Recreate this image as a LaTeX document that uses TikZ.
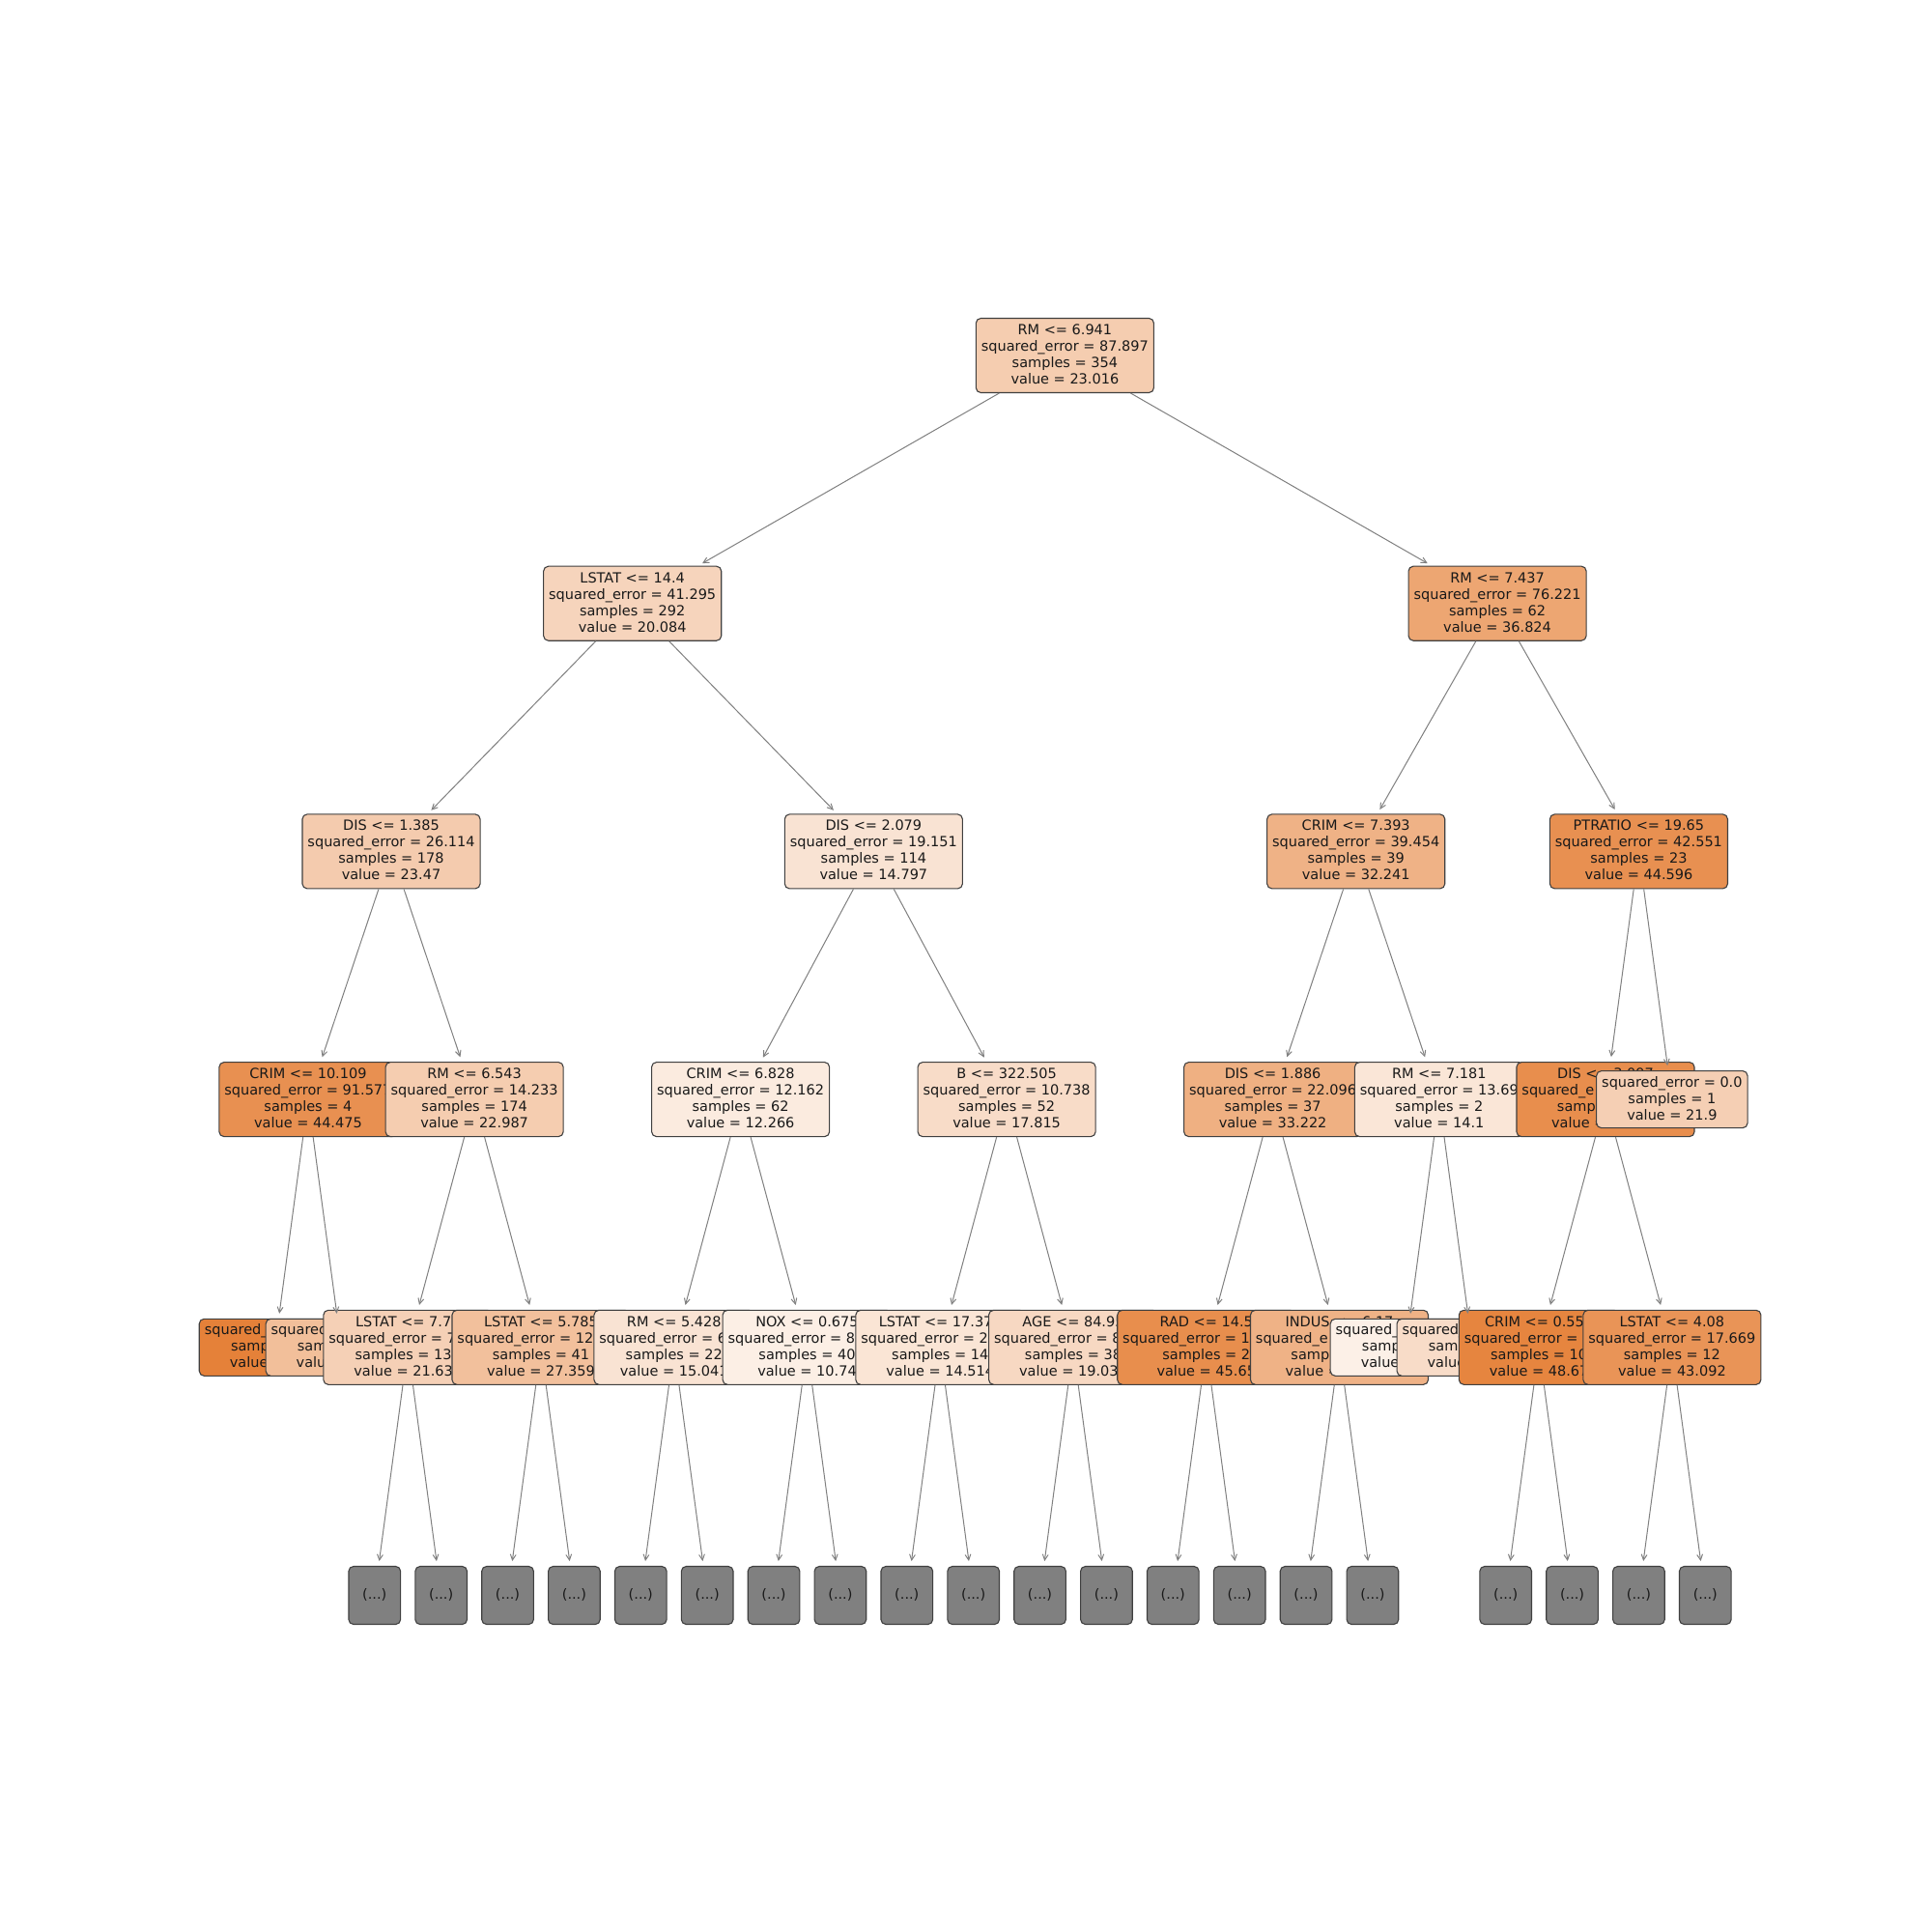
\documentclass[tikz,border=0pt]{standalone}
\usepackage{fontspec}
\setmainfont{DejaVu Sans}
\usetikzlibrary{arrows.meta}
\definecolor{orng}{RGB}{229,129,57}
\begin{document}
\begin{tikzpicture}[x=34.4375pt,y=-128.35pt,
  >={Straight Barb[length=2.9pt,width=2.9pt]},
  box/.style={draw=black!75,line width=0.55pt,rounded corners=2.5pt,align=center,
    font=\fontsize{7.25}{8.5}\selectfont,text=black!90,inner xsep=2.75pt,inner ysep=0pt,
    execute at begin node=\vphantom{l},execute at end node=\vphantom{p}},
  split/.style={box,minimum height=38.5pt},
  leaf/.style={box,minimum height=29.5pt},
  more/.style={box,fill=gray,minimum width=26.85pt,minimum height=30pt},
  link/.style={->,draw=black!50,line width=0.5pt,shorten >=2.5pt}]
\fill[white] (-5.6305,-1.4336) rectangle (23.4076,6.3576);
\useasboundingbox (-5.6305,-1.4336) rectangle (23.4076,6.3576);

% cut-off subtrees
\foreach \k in {0,...,15,17,18,19,20}
  \node[more] (m\k) at (\k,5) {(...)};

% depth 4
\node[leaf,fill=orng] (lfa) at (-1.5,4) {squared\_error = 0.0\\samples = 3\\value = 50.0};
\node[leaf,fill=orng!51!white] (lfb) at (-0.5,4) {squared\_error = 0.0\\samples = 1\\value = 27.9};
\node[split,fill=orng!37!white] (lsa) at (0.5,4) {LSTAT <= 7.7\phantom{0}\\squared\_error = 7\phantom{.000}\\samples = 133\\value = 21.639};
\node[split,fill=orng!50!white] (lsb) at (2.5,4) {LSTAT <= 5.785\\squared\_error = 12\phantom{.000}\\samples = 41\\value = 27.359};
\node[split,fill=orng!22!white] (rme) at (4.5,4) {RM <= 5.428\\squared\_error = 6\phantom{.00}\\samples = 22\\value = 15.041};
\node[split,fill=orng!13!white] (nox) at (6.5,4) {NOX <= 0.675\\squared\_error = 8\phantom{.000}\\samples = 40\\value = 10.74};
\node[split,fill=orng!21!white] (lsc) at (8.5,4) {LSTAT <= 17.37\phantom{0}\\squared\_error = 2\phantom{.000}\\samples = 14\\value = 14.514};
\node[split,fill=orng!31!white] (age) at (10.5,4) {AGE <= 84.95\\squared\_error = 8\phantom{.000}\\samples = 38\\value = 19.031};
\node[split,fill=orng!90!white] (rad) at (12.5,4) {RAD <= 14.5\\squared\_error = 1\phantom{0.000}\\samples = 2\\value = 45.65};
\node[split,fill=orng!61!white] (ind) at (14.5,4) {INDUS <= 6.17\\squared\_e\phantom{rror = 00.000}\\samples = 35\\value = 32.512};
\node[leaf,fill=orng!12!white] (lfc) at (15.5,4) {squared\_error = 0.0\\samples = 1\\value = 10.4};
\node[leaf,fill=orng!28!white] (lfd) at (16.5,4) {squared\_error = 0.0\\samples = 1\\value = 17.8};
\node[split,fill=orng!97!white] (crimd) at (17.5,4) {CRIM <= 0.55\phantom{0}\\squared\_error = \phantom{0.00}\\samples = 10\\value = 48.67};
\node[split,fill=orng!85!white] (lsd) at (19.5,4) {LSTAT <= 4.08\\squared\_error = 17.669\\samples = 12\\value = 43.092};

% depth 3
\node[split,fill=orng!88!white] (crimb) at (-1,3) {CRIM <= 10.109\\squared\_error = 91.577\\samples = 4\\value = 44.475};
\node[split,fill=orng!40!white] (rmc) at (1.5,3) {RM <= 6.543\\squared\_error = 14.233\\samples = 174\\value = 22.987};
\node[split,fill=orng!16!white] (crimc) at (5.5,3) {CRIM <= 6.828\\squared\_error = 12.162\\samples = 62\\value = 12.266};
\node[split,fill=orng!28!white] (bb) at (9.5,3) {B <= 322.505\\squared\_error = 10.738\\samples = 52\\value = 17.815};
\node[split,fill=orng!63!white] (disc) at (13.5,3) {DIS <= 1.886\\squared\_error = 22.096\\samples = 37\\value = 33.222};
\node[split,fill=orng!20!white] (rmd) at (16,3) {RM <= 7.181\\squared\_error = 13.69\\samples = 2\\value = 14.1};
\node[split,fill=orng!90!white] (disd) at (18.5,3) {DIS <= 3.097\\squared\_e\phantom{rror = 00.000}\\samples = 22\\value = 45.628};
\node[leaf,fill=orng!38!white] (lfe) at (19.5,3) {squared\_error = 0.0\\samples = 1\\value = 21.9};

% depth 2
\node[split,fill=orng!41!white] (disa) at (0.25,2) {DIS <= 1.385\\squared\_error = 26.114\\samples = 178\\value = 23.47};
\node[split,fill=orng!22!white] (disb) at (7.5,2) {DIS <= 2.079\\squared\_error = 19.151\\samples = 114\\value = 14.797};
\node[split,fill=orng!61!white] (crima) at (14.75,2) {CRIM <= 7.393\\squared\_error = 39.454\\samples = 39\\value = 32.241};
\node[split,fill=orng!88!white] (ptr) at (19,2) {PTRATIO <= 19.65\\squared\_error = 42.551\\samples = 23\\value = 44.596};

% depth 1 and root
\node[split,fill=orng!34!white] (lstat) at (3.875,1) {LSTAT <= 14.4\\squared\_error = 41.295\\samples = 292\\value = 20.084};
\node[split,fill=orng!71!white] (rmb) at (16.875,1) {RM <= 7.437\\squared\_error = 76.221\\samples = 62\\value = 36.824};
\node[split,fill=orng!40!white] (root) at (10.375,0) {RM <= 6.941\\squared\_error = 87.897\\samples = 354\\value = 23.016};

\foreach \a/\b in {root/lstat,root/rmb,lstat/disa,lstat/disb,rmb/crima,rmb/ptr,
    disa/crimb,disa/rmc,disb/crimc,disb/bb,crima/disc,crima/rmd,ptr/disd,ptr/lfe,
    crimb/lfa,crimb/lfb,rmc/lsa,rmc/lsb,crimc/rme,crimc/nox,bb/lsc,bb/age,
    disc/rad,disc/ind,rmd/lfc,rmd/lfd,disd/crimd,disd/lsd,
    lsa/m0,lsa/m1,lsb/m2,lsb/m3,rme/m4,rme/m5,nox/m6,nox/m7,lsc/m8,lsc/m9,
    age/m10,age/m11,rad/m12,rad/m13,ind/m14,ind/m15,crimd/m17,crimd/m18,lsd/m19,lsd/m20}
  \draw[link] (\a)--(\b);
\end{tikzpicture}
\end{document}
